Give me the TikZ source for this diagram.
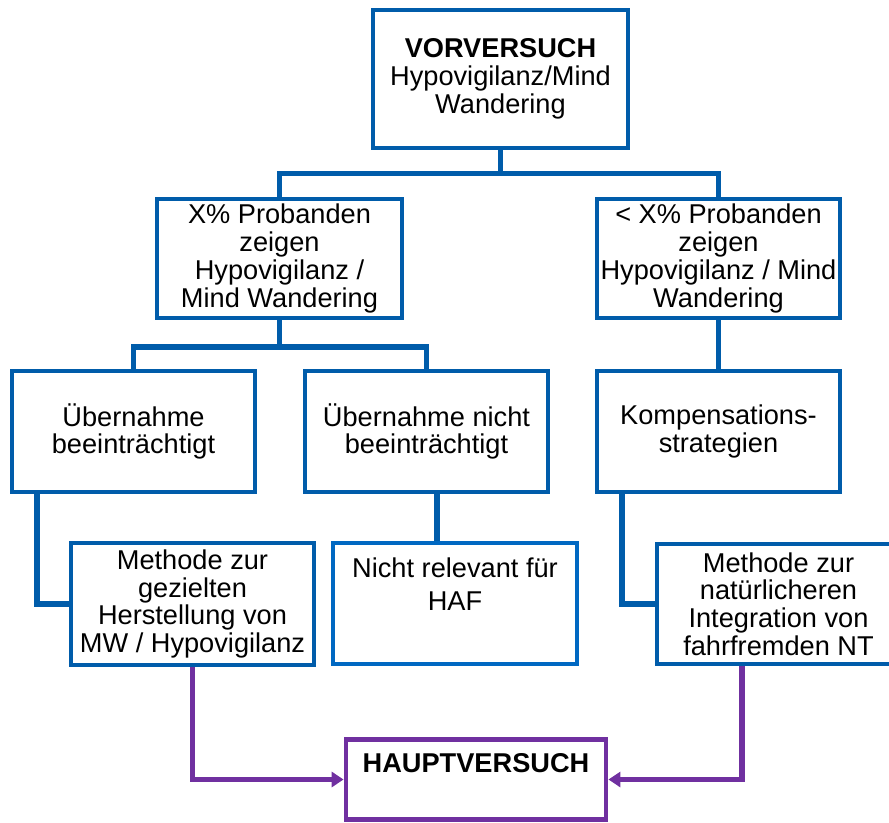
\documentclass[tikz,border=0pt]{standalone}
\usepackage{fontspec}
\setmainfont{Liberation Sans}
\usetikzlibrary{arrows.meta}

\begin{document}
\begin{tikzpicture}[x=0.5pt, y=-0.5pt,
    box/.style={draw=boxblue, line width=2.4pt, fill=white, align=center,
        inner sep=0pt, minimum width=121.5pt, minimum height=60.5pt,
        font=\fontsize{13.6pt}{13.85pt}\selectfont},
    conn/.style={draw=boxblue, line width=2.6pt},
    pfeil/.style={draw=lila, line width=2.6pt, -{Triangle[length=6pt, width=7.5pt]}},
    txt/.style={anchor=north, inner sep=0pt, align=center}]

    % Farben
    \definecolor{boxblue}{RGB}{0, 92, 170}
    \definecolor{relblue}{RGB}{0, 104, 194}
    \definecolor{lila}{RGB}{112, 48, 160}

    \useasboundingbox (0,0) rectangle (889,823);
    \clip (0,0) rectangle (889,823);

    % 1. Vorversuch
    \node[box, minimum width=127.5pt, minimum height=69pt] (vor) at (500.5,79)
        {\textbf{VORVERSUCH}\\Hypovigilanz/Mind\\Wandering};

    % 2. Ergebnisse
    \node[box, minimum width=122.5pt, minimum height=59.5pt] (p1) at (279.5,258.5)
        {X\% Probanden\\zeigen\\Hypovigilanz /\\Mind Wandering};
    \node[box, minimum height=59.5pt] (p2) at (718.5,258.5)
        {< X\% Probanden\\zeigen\\Hypovigilanz / Mind\\Wandering};

    % 3. Uebernahme / Kompensation
    \node[box] (ub1) at (133.5,431.5) {Übernahme\\beeinträchtigt};
    \node[box] (ub2) at (426.5,431.5) {Übernahme nicht\\beeinträchtigt};
    \node[box] (komp) at (718.5,431.5) {Kompensations-\\strategien};

    % 4. Methoden
    \node[box, minimum height=61pt] (meth1) at (192.5,604)
        {Methode zur\\gezielten\\Herstellung von\\MW / Hypovigilanz};
    \node[box, draw=relblue, minimum width=122pt] (rel) at (455,603.5) {};
    \node[txt, font=\fontsize{13.6pt}{16.5pt}\selectfont] (reltxt)
        at ([yshift=-8.2pt]rel.north) {Nicht relevant für\\HAF};
    \node[box, minimum height=60pt] (meth2) at (778.5,604)
        {Methode zur\\natürlicheren\\Integration von\\fahrfremden NT};

    % 5. Hauptversuch
    \node[box, draw=lila, minimum width=130pt, minimum height=40pt] (haupt) at (476,779.5) {};
    \node[txt, font=\fontsize{13.6pt}{13.85pt}\selectfont\bfseries] (hauptxt)
        at ([yshift=-8pt]haupt.north) {HAUPTVERSUCH};

    % 6. Verbindungen
    \draw[conn] (vor.south) -- ([yshift=-11.5pt]vor.south);
    \draw[conn] (p1.north) |- ([yshift=-11.5pt]vor.south) -| (p2.north);
    \draw[conn] (p1.south) -- ([yshift=-13.3pt]p1.south);
    \draw[conn] (ub1.north) |- ([yshift=-13.3pt]p1.south) -| (ub2.north);
    \draw[conn] (p2) -- (komp);
    \draw[conn] ([xshift=5.25pt]ub2.south) -- ([xshift=5.25pt]ub2.south |- rel.north);
    \draw[conn] ([xshift=-48.25pt]ub1.south) |- (meth1.west);
    \draw[conn] ([xshift=-48.25pt]komp.south) |- (meth2.west);

    % 7. Pfeile zum Hauptversuch
    \draw[pfeil] (meth1.south) |- (haupt.west);
    \draw[pfeil] ([xshift=-18.25pt]meth2.south) |- (haupt.east);
\end{tikzpicture}
\end{document}
